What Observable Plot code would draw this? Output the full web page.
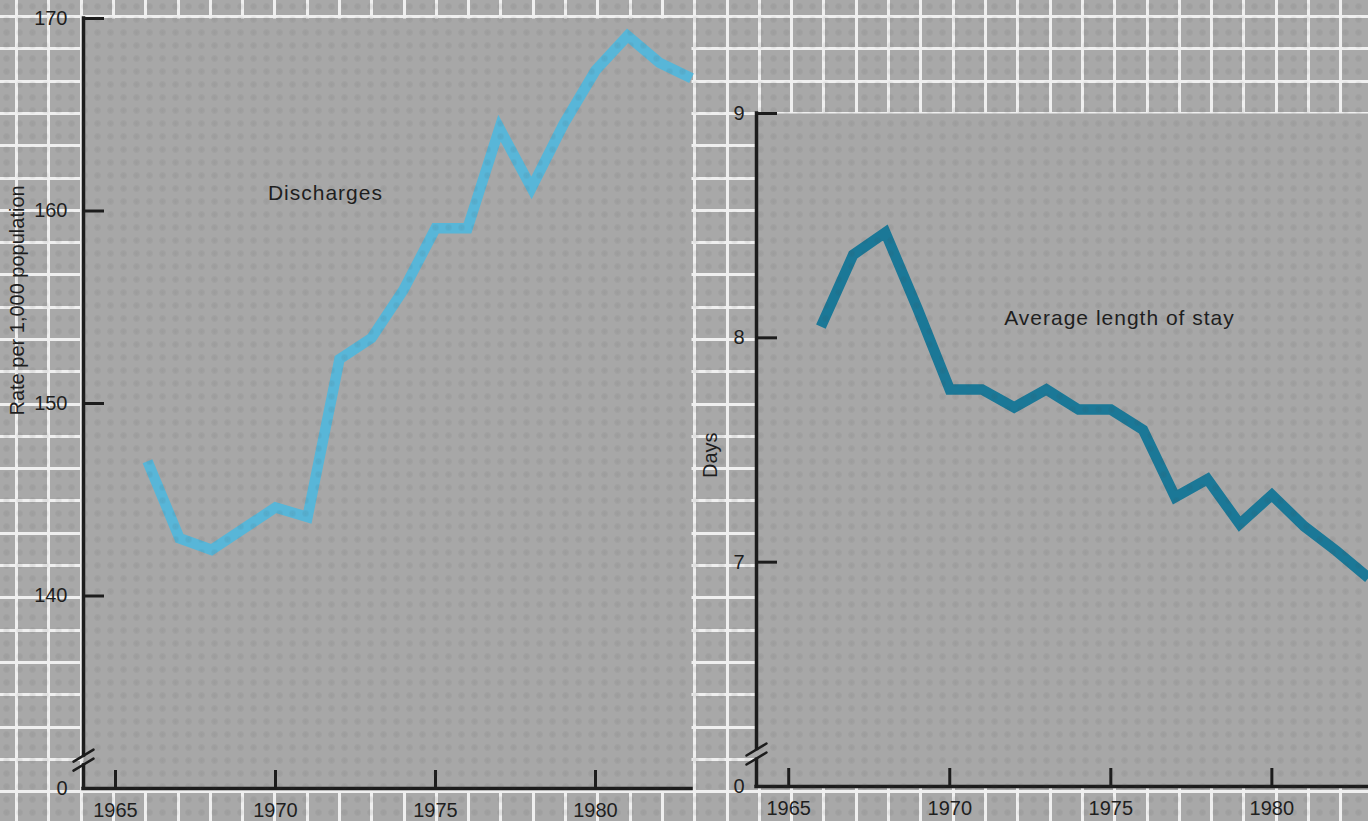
<!DOCTYPE html>
<html>
<head>
<meta charset="utf-8">
<script src="https://cdn.jsdelivr.net/npm/d3@7"></script>
<script src="https://cdn.jsdelivr.net/npm/@observablehq/plot@0.6"></script>
<style>
  html, body { margin: 0; padding: 0; background: #a8a8a8; }
  #page {
    position: relative; width: 1368px; height: 821px; overflow: hidden;
    background-color: #a8a8a8;
    font-family: "Liberation Sans", Arial, Helvetica, sans-serif;
  }
  .panel { position: absolute; top: 0; }
  #texture {
    position: absolute; left: 0; top: 0; width: 1368px; height: 821px; pointer-events: none;
    background-image: radial-gradient(circle, rgba(60,60,60,0.10) 0px, rgba(60,60,60,0.07) 2.5px, rgba(0,0,0,0) 4px);
    background-size: 13px 13px;
  }
</style>
</head>
<body>
<div id="page">
  <div id="grid" class="panel" style="left:0px"></div>
  <div id="left" class="panel" style="left:0px"></div>
  <div id="right" class="panel" style="left:668px"></div>
  <div id="texture"></div>
</div>
<script>
// ---- data ----
const years = [1966, 1967, 1968, 1969, 1970, 1971, 1972, 1973, 1974, 1975, 1976, 1977, 1978, 1979, 1980, 1981, 1982, 1983];
const discharges = [147.0, 143.0, 142.4, 143.5, 144.6, 144.1, 152.3, 153.4, 155.9, 159.1, 159.1, 164.3, 161.2, 164.5, 167.3, 169.1, 167.7, 166.9];
const avgStay = [8.05, 8.37, 8.47, 8.13, 7.77, 7.77, 7.69, 7.77, 7.68, 7.68, 7.59, 7.29, 7.37, 7.17, 7.30, 7.16, 7.05, 6.93];

const yearTicks = [1965, 1970, 1975, 1980];
const dischargeTicks = [140, 150, 160, 170];
const stayTicks = [7, 8, 9];
const zeroLabel = "0";              // label shown at the broken-axis base
const dischargeBase = 130;          // value at the axis base (drawn as "0")
const stayBase = 6;

const dischargeLabel = "Rate per 1,000 population";
const stayLabel = "Days";
const dischargeNote = "Discharges";
const stayNote = "Average length of stay";

// ---- drawing ----
const INK = "#1c1c1c";
const TEXT = "#1e1e1e";
const PANEL = "#a7a7a7";
const GRID = "#efefef";
const FONT = "'Liberation Sans', Arial, Helvetica, sans-serif";

// decorative graph-paper background (identity scales, page pixels)
const gridStep = 32.3;
const gridX = d3.range(15, 1368, gridStep).map(Math.round);
const gridY = d3.range(15, 821, gridStep).map(Math.round);
document.getElementById("grid").appendChild(Plot.plot({
  width: 1368, height: 821, margin: 0,
  x: {type: "identity", axis: null}, y: {type: "identity", axis: null},
  style: {background: "transparent"},
  marks: [
    Plot.rectX(gridX, {x1: d => d, x2: d => d + 3, fill: GRID, shapeRendering: "crispEdges"}),
    Plot.rectY(gridY, {y1: d => d, y2: d => d + 3, fill: GRID, shapeRendering: "crispEdges"})
  ]
}));

const breakShape = {
  draw(ctx) {
    ctx.moveTo(-10, 2); ctx.lineTo(10, -10);
    ctx.moveTo(-10, 11); ctx.lineTo(10, -1);
  }
};

function panel(o) {
  const H = 821 - o.marginTop - o.marginBottom;
  const W = o.width - o.marginLeft - o.marginRight;
  const rows = years.map((year, i) => ({year, value: o.values[i]}));
  const [xMin] = o.xDomain;
  const [yMin, yMax] = o.yDomain;
  const svg = Plot.plot({
    width: o.width,
    height: 821,
    marginLeft: o.marginLeft,
    marginRight: o.marginRight,
    marginTop: o.marginTop,
    marginBottom: o.marginBottom,
    x: {domain: o.xDomain},
    y: {domain: o.yDomain},
    style: {background: "transparent", fontSize: "20px", fontFamily: FONT, color: TEXT, overflow: "visible"},
    marks: [
      Plot.frame({fill: PANEL, stroke: null}),
      Plot.line(rows, {x: "year", y: "value", stroke: o.color, strokeWidth: 10.5, strokeLinejoin: "miter", strokeMiterlimit: 6, strokeLinecap: "butt"}),
      // y axis line, broken near its base
      Plot.ruleX([xMin], {x: d => d, y1: () => o.breakValue + o.breakGap, y2: () => yMax, stroke: INK, strokeWidth: 3.5, strokeLinecap: "square"}),
      Plot.ruleX([xMin], {x: d => d, y1: () => yMin, y2: () => o.breakValue - o.breakGap, stroke: INK, strokeWidth: 3.5}),
      Plot.vector([o.breakValue], {x: () => xMin, y: d => d, length: 20, anchor: "start", shape: breakShape, stroke: INK, strokeWidth: 2.5}),
      // x axis line
      Plot.ruleY([yMin], {y: d => d, stroke: INK, strokeWidth: 3.5, strokeLinecap: "square"}),
      // inward ticks
      Plot.tickX(yearTicks, {x: d => d, insetTop: H - 18, stroke: INK, strokeWidth: 3}),
      Plot.tickY(o.ticks, {y: d => d, insetRight: W - 21, stroke: INK, strokeWidth: 3}),
      // tick labels
      Plot.axisX({ticks: yearTicks, tickSize: 0, tickPadding: 14, tickFormat: d => String(d), label: null, fill: TEXT, fontSize: 20}),
      Plot.axisY({ticks: [yMin, ...o.ticks], tickSize: 0, tickPadding: o.tickPadY, tickFormat: d => d === yMin ? zeroLabel : String(d), label: null, fill: TEXT, fontSize: 20}),
      // axis title
      Plot.text([o.label], {frameAnchor: "left", text: d => d, rotate: -90, dx: o.labelDx, dy: o.labelDy, fontSize: 20, fill: TEXT}),
      // series annotation
      Plot.text([o.note], {x: () => o.noteX, y: () => o.noteY, text: d => d, fontSize: 21, fill: TEXT})
    ]
  });
  d3.select(svg).selectAll("text").filter(function() { return this.textContent === o.note; })
    .style("letter-spacing", "1px");
  return svg;
}

document.getElementById("left").appendChild(panel({
  values: discharges, color: "#58b6d8",
  width: 700, marginLeft: 83, marginRight: 9, marginTop: 18, marginBottom: 33,
  xDomain: [1964, 1983], yDomain: [dischargeBase, 170],
  ticks: dischargeTicks, tickPadY: 16,
  breakValue: 131.5, breakGap: 0.21,
  label: dischargeLabel, labelDx: -66, labelDy: 12,
  note: dischargeNote, noteX: 1971.56, noteY: 160.94
}));

document.getElementById("right").appendChild(panel({
  values: avgStay, color: "#1b7897",
  width: 700, marginLeft: 88, marginRight: 0, marginTop: 113, marginBottom: 35,
  xDomain: [1964, 1983], yDomain: [stayBase, 9],
  ticks: stayTicks, tickPadY: 12,
  breakValue: 6.147, breakGap: 0.02,
  label: stayLabel, labelDx: -46, labelDy: 28,
  note: stayNote, noteX: 1975.27, noteY: 8.088
}));
</script>
</body>
</html>
